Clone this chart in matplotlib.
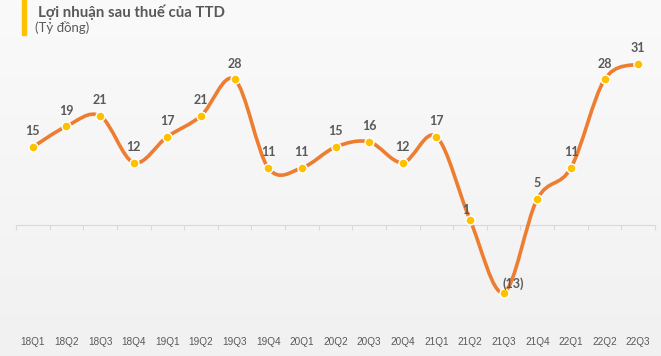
import matplotlib
matplotlib.use("Agg")
import matplotlib.pyplot as plt
import numpy as np
from matplotlib.path import Path
from matplotlib.patches import PathPatch, Rectangle

quarters = ["18Q1", "18Q2", "18Q3", "18Q4", "19Q1", "19Q2", "19Q3", "19Q4",
            "20Q1", "20Q2", "20Q3", "20Q4", "21Q1", "21Q2", "21Q3", "21Q4",
            "22Q1", "22Q2", "22Q3"]
profit = [15, 19, 21, 12, 17, 21, 28, 11, 11, 15, 16, 12, 17, 1, -13, 5, 11, 28, 31]
labels = ["15", "19", "21", "12", "17", "21", "28", "11", "11", "15", "16", "12",
          "17", "1", "(13)", "5", "11", "28", "31"]

title = "Lợi nhuận sau thuế của TTD"
unit = "(Tỷ đồng)"

line_color = "#ED7D31"
marker_color = "#FFC000"
text_color = "#595959"


def smooth_path(xs, ys):
    # bezier segments like excel's smoothed line
    pts = np.column_stack([xs, ys]).astype(float)
    n = len(pts)
    verts = [pts[0]]
    codes = [Path.MOVETO]
    for i in range(n - 1):
        p0 = pts[i - 1] if i > 0 else pts[i]
        p1 = pts[i]
        p2 = pts[i + 1]
        p3 = pts[i + 2] if i + 2 < n else pts[i + 1]
        c1 = p1 + (p2 - p0) / 6.0
        c2 = p2 - (p3 - p1) / 6.0
        verts += [c1, c2, p2]
        codes += [Path.CURVE4] * 3
    return Path(verts, codes)


fig = plt.figure(figsize=(6.61, 3.56), dpi=100)
fig.patch.set_facecolor("#f5f5f5")

# soft background gradient
bg = fig.add_axes([0, 0, 1, 1], zorder=-10)
grad = np.linspace(0.98, 0.945, 256).reshape(-1, 1)
bg.imshow(np.dstack([grad, grad, grad]), aspect="auto", extent=[0, 1, 0, 1])
bg.axis("off")

W, H = 661, 356
ax = fig.add_axes([16 / W, (H - 330) / H, (655 - 16) / W, (330 - 40) / H])
ax.set_facecolor("none")

x = np.arange(len(quarters))
ax.set_xlim(-0.5, len(quarters) - 0.5)
ax.set_ylim(-20.2, 35.6)

ax.add_patch(PathPatch(smooth_path(x, profit), facecolor="none",
                       edgecolor=line_color, lw=2.6, zorder=3,
                       capstyle="round", joinstyle="round"))
ax.plot(x, profit, ls="none", marker="o", ms=6.5, mfc=marker_color,
        mec="white", mew=1.0, zorder=4)

for i, (v, lab) in enumerate(zip(profit, labels)):
    dx, dy = 0, 7
    if lab == "1":
        dx, dy = -3, 3
    if lab == "(13)":
        dx, dy = 7, 2
    ax.annotate(lab, (x[i], v), xytext=(dx, dy), textcoords="offset points",
                ha="center", va="bottom", fontsize=9, fontweight="bold",
                family=["Lato", "DejaVu Sans"], color=text_color, zorder=5)

for s in ["top", "right", "left"]:
    ax.spines[s].set_visible(False)
ax.spines["bottom"].set_position(("data", 0))
ax.spines["bottom"].set_color("#d9d9d9")
ax.set_yticks([])
ax.set_xticks(x)
ax.set_xticklabels([])
ax.tick_params(axis="x", which="major", length=0)
ax.set_xticks(np.arange(-0.5, len(quarters)), minor=True)
ax.tick_params(axis="x", which="minor", length=3.5, color="#d9d9d9", width=0.8)

sec = ax.secondary_xaxis(0.0)
sec.set_xticks(x)
sec.set_xticklabels(quarters, fontsize=7.2, color=text_color,
                    family=["Liberation Sans", "DejaVu Sans"])
sec.tick_params(length=0, pad=5)
sec.spines["bottom"].set_visible(False)

fig.patches.append(Rectangle((22 / W, (H - 35) / H), 4 / W, 35 / H,
                             transform=fig.transFigure, color=marker_color,
                             zorder=5))
fig.text(38 / W, (H - 12) / H, title, fontsize=10.8, fontweight="bold",
         color=text_color, va="center", family=["Lato", "DejaVu Sans"])
fig.text(35 / W, (H - 28) / H, unit, fontsize=9.5, color=text_color,
         va="center", family=["Lato", "DejaVu Sans"])

fig.savefig("out.png", dpi=100, facecolor=fig.get_facecolor())
